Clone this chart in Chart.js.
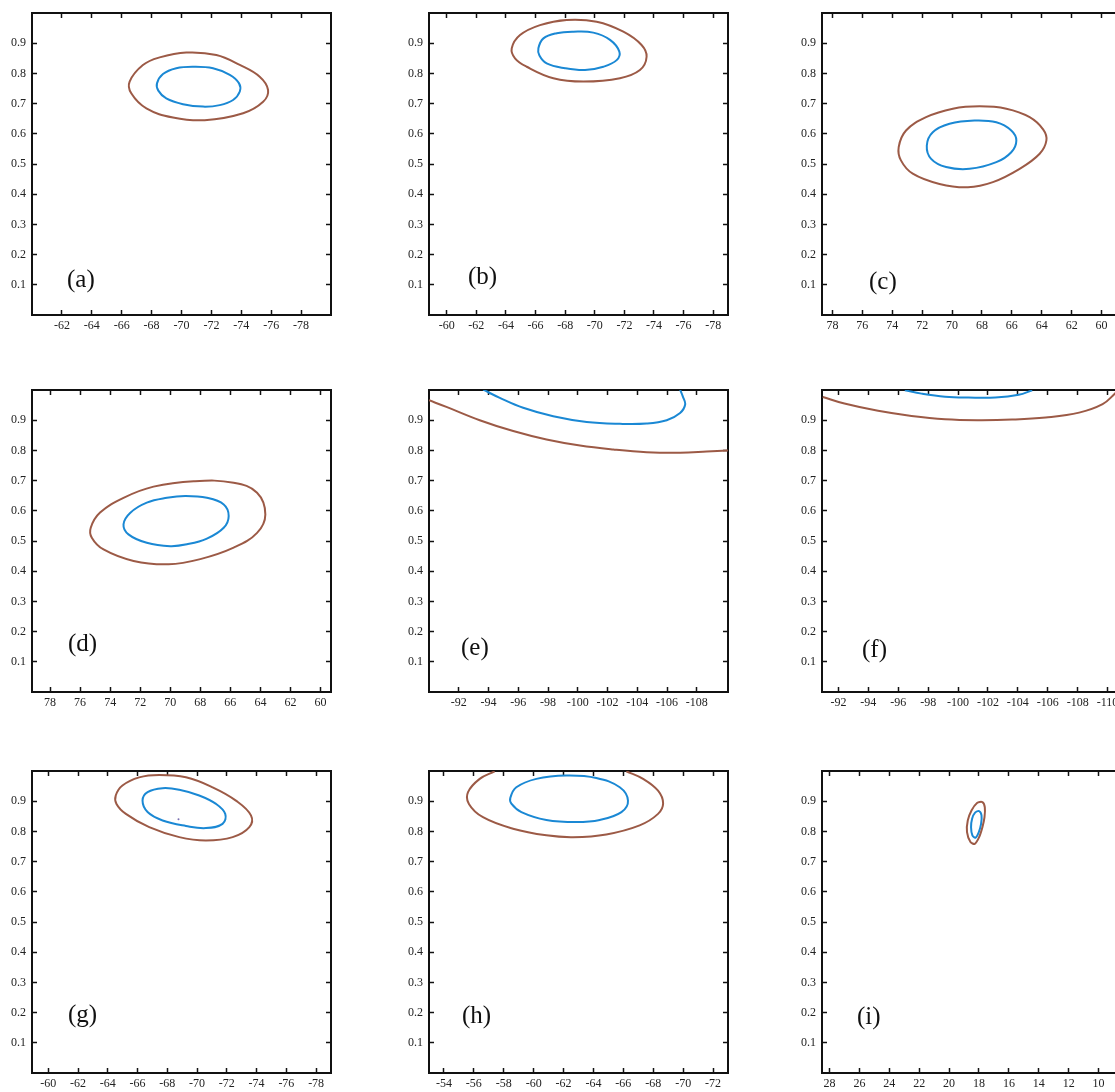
<!DOCTYPE html>
<html>
<head>
<meta charset="utf-8">
<script src="https://cdn.jsdelivr.net/npm/chart.js@4.4.1/dist/chart.umd.min.js"></script>
<style>
  html, body { margin: 0; padding: 0; background: #fff; overflow: hidden; width: 1115px; height: 1092px; }
  canvas { position: absolute; }
</style>
</head>
<body>
<script>
// tick labels
const yTicks = [0.1, 0.2, 0.3, 0.4, 0.5, 0.6, 0.7, 0.8, 0.9];
const ticksA = [-62, -64, -66, -68, -70, -72, -74, -76, -78];
const ticksB = [-60, -62, -64, -66, -68, -70, -72, -74, -76, -78];
const ticksC = [78, 76, 74, 72, 70, 68, 66, 64, 62, 60];
const ticksD = [78, 76, 74, 72, 70, 68, 66, 64, 62, 60];
const ticksE = [-92, -94, -96, -98, -100, -102, -104, -106, -108];
const ticksF = [-92, -94, -96, -98, -100, -102, -104, -106, -108, -110];
const ticksG = [-60, -62, -64, -66, -68, -70, -72, -74, -76, -78];
const ticksH = [-54, -56, -58, -60, -62, -64, -66, -68, -70, -72];
const ticksI = [28, 26, 24, 22, 20, 18, 16, 14, 12, 10];

// contours: [x, y]
const aBrown = [[-70.32,0.869],[-72.33,0.861],[-73.90,0.828],[-75.23,0.789],[-75.79,0.745],[-75.46,0.706],[-74.12,0.668],[-71.55,0.645],[-69.43,0.654],[-67.65,0.684],[-66.64,0.734],[-66.53,0.773],[-67.42,0.828],[-68.54,0.853]];
const aBlue = [[-70.77,0.822],[-72.11,0.817],[-73.23,0.795],[-73.85,0.767],[-73.90,0.740],[-73.45,0.712],[-72.56,0.695],[-71.44,0.690],[-70.10,0.698],[-68.98,0.717],[-68.45,0.743],[-68.36,0.767],[-68.76,0.798],[-69.65,0.817]];

const bBrown = [[-68.10,0.977],[-70.13,0.971],[-71.93,0.938],[-73.16,0.894],[-73.50,0.855],[-73.05,0.811],[-71.70,0.784],[-69.23,0.773],[-67.20,0.784],[-65.40,0.822],[-64.61,0.850],[-64.39,0.883],[-64.95,0.927],[-66.30,0.960]];
const bBlue = [[-68.55,0.938],[-69.90,0.935],[-71.03,0.911],[-71.66,0.872],[-71.48,0.844],[-70.58,0.822],[-69.34,0.811],[-67.99,0.817],[-66.75,0.833],[-66.26,0.859],[-66.19,0.883],[-66.53,0.916],[-67.43,0.933]];

const cBrown = [[68.16,0.691],[66.37,0.683],[64.81,0.655],[63.90,0.614],[63.69,0.578],[64.14,0.534],[65.48,0.484],[67.27,0.440],[68.94,0.423],[70.84,0.434],[72.63,0.468],[73.42,0.512],[73.57,0.556],[73.08,0.611],[71.74,0.655],[69.95,0.683]];
const cBlue = [[68.50,0.644],[67.04,0.638],[66.04,0.611],[65.70,0.578],[66.04,0.539],[67.04,0.506],[68.83,0.484],[70.40,0.490],[71.40,0.517],[71.69,0.561],[71.29,0.605],[70.17,0.633]];

const dBrown = [[68.44,0.698],[65.78,0.693],[64.22,0.660],[63.67,0.588],[64.22,0.527],[65.78,0.478],[68.00,0.440],[70.11,0.423],[72.44,0.434],[74.44,0.472],[75.22,0.511],[75.29,0.544],[74.67,0.594],[73.11,0.643],[71.11,0.680]];
const dBlue = [[69.00,0.649],[67.56,0.643],[66.44,0.621],[66.11,0.583],[66.44,0.544],[67.56,0.508],[68.89,0.489],[70.00,0.483],[71.56,0.494],[72.78,0.522],[73.11,0.555],[72.67,0.593],[71.56,0.627],[70.22,0.643]];

const eBrown = [[-90.00,0.966],[-91.17,0.944],[-93.41,0.900],[-95.66,0.864],[-97.90,0.836],[-100.15,0.816],[-102.39,0.803],[-104.63,0.794],[-106.88,0.792],[-108.67,0.796],[-110.09,0.800]];
const eBlue = [[-93.64,1.001],[-94.76,0.974],[-96.33,0.941],[-98.35,0.913],[-100.60,0.894],[-102.84,0.888],[-104.63,0.889],[-105.98,0.900],[-106.88,0.924],[-107.22,0.952],[-107.06,0.979],[-106.88,1.001]];

const fBrown = [[-90.95,0.977],[-92.40,0.955],[-94.65,0.931],[-96.89,0.914],[-99.13,0.903],[-101.37,0.900],[-103.61,0.902],[-105.86,0.909],[-108.10,0.925],[-109.67,0.953],[-110.45,0.986],[-110.68,0.999]];
const fBlue = [[-96.44,0.999],[-97.56,0.988],[-99.13,0.978],[-100.70,0.975],[-102.49,0.975],[-104.06,0.984],[-104.96,0.999]];

const gBrown = [[-67.45,0.987],[-69.25,0.979],[-71.04,0.946],[-72.61,0.902],[-73.62,0.853],[-73.51,0.814],[-72.39,0.781],[-70.59,0.770],[-68.80,0.781],[-66.78,0.814],[-65.21,0.858],[-64.58,0.891],[-64.53,0.919],[-64.98,0.952],[-66.10,0.979]];
const gBlue = [[-67.68,0.943],[-68.80,0.938],[-70.14,0.919],[-71.27,0.891],[-71.89,0.858],[-71.71,0.825],[-70.59,0.811],[-69.25,0.818],[-67.68,0.836],[-66.67,0.864],[-66.33,0.902],[-66.67,0.930]];
const gDot = [[-68.75,0.840]];

const hBrown = [[-57.39,0.999],[-56.39,0.974],[-55.61,0.930],[-55.67,0.891],[-56.61,0.847],[-58.62,0.809],[-60.85,0.787],[-62.63,0.781],[-64.86,0.790],[-67.09,0.820],[-68.32,0.858],[-68.66,0.893],[-68.32,0.935],[-67.32,0.974],[-66.20,0.999]];
const hBlue = [[-62.19,0.985],[-64.19,0.977],[-65.76,0.946],[-66.31,0.902],[-65.87,0.864],[-64.42,0.838],[-62.86,0.831],[-60.85,0.838],[-59.18,0.864],[-58.51,0.892],[-58.44,0.911],[-58.84,0.946],[-60.18,0.974]];

const iBrown = [[17.63,0.847],[17.77,0.814],[17.99,0.781],[18.28,0.759],[18.57,0.765],[18.80,0.798],[18.75,0.836],[18.50,0.869],[18.13,0.894],[17.77,0.897],[17.61,0.880]];
const iBlue = [[17.86,0.825],[18.01,0.798],[18.24,0.779],[18.44,0.787],[18.53,0.814],[18.46,0.842],[18.26,0.862],[17.99,0.867],[17.83,0.853]];

const BLUE = "#1a88d4";
const BROWN = "#9c5a46";
const FONT = '"Liberation Serif", "Times New Roman", serif';

// layout of the 3x3 grid (plot area boxes)
const colX = [32, 429, 822];
const rowY = [13, 390, 771];
const PW = 299, PH = 302;
const AXL = 40, PADT = 24, PADR = 20, AXB = 25, PADB = 5;

const panels = [
  { text: "(a)", col: 0, row: 0, xMin: -80, xMax: -60, xTicks: ticksA, brown: [aBrown], blue: [aBlue], dx: 35, dy: 35 },
  { text: "(b)", col: 1, row: 0, xMin: -79, xMax: -58.8, xTicks: ticksB, brown: [bBrown], blue: [bBlue], dx: 39, dy: 38 },
  { text: "(c)", col: 2, row: 0, xMin: 58.7, xMax: 78.7, xTicks: ticksC, brown: [cBrown], blue: [cBlue], dx: 47, dy: 33 },
  { text: "(d)", col: 0, row: 1, xMin: 59.3, xMax: 79.2, xTicks: ticksD, brown: [dBrown], blue: [dBlue], dx: 36, dy: 48 },
  { text: "(e)", col: 1, row: 1, xMin: -110.1, xMax: -90, xTicks: ticksE, brown: [eBrown], blue: [eBlue], openAll: true, dx: 32, dy: 44 },
  { text: "(f)", col: 2, row: 1, xMin: -110.9, xMax: -90.9, xTicks: ticksF, brown: [fBrown], blue: [fBlue], openAll: true, dx: 40, dy: 42 },
  { text: "(g)", col: 0, row: 2, xMin: -79, xMax: -58.9, xTicks: ticksG, brown: [gBrown], blue: [gBlue], dot: gDot, dx: 36, dy: 58 },
  { text: "(h)", col: 1, row: 2, xMin: -73, xMax: -53, xTicks: ticksH, brown: [hBrown], blue: [hBlue], openBrown: true, dx: 33, dy: 57 },
  { text: "(i)", col: 2, row: 2, xMin: 8.5, xMax: 28.5, xTicks: ticksI, brown: [iBrown], blue: [iBlue], tension: 0.3, dx: 35, dy: 56 }
];

function toXY(pts) { return pts.map(p => ({ x: p[0], y: p[1] })); }

const panelLabel = {
  id: "panelLabel",
  afterDraw(chart, args, opts) {
    const a = chart.chartArea, ctx = chart.ctx;
    ctx.save();
    ctx.font = "25px " + FONT;
    ctx.fillStyle = "#111";
    ctx.textAlign = "left";
    ctx.textBaseline = "middle";
    ctx.fillText(opts.text, a.left + opts.dx, a.bottom - opts.dy);
    ctx.restore();
  }
};

// let closed contours wrap around like a radar line, so the spline has no seam
const closeLoops = {
  id: "closeLoops",
  beforeDatasetsDraw(chart) {
    chart.data.datasets.forEach((ds, i) => {
      if (!ds.closed) return;
      const el = chart.getDatasetMeta(i).dataset;
      if (!el) return;
      el._loop = true;
      el._fullLoop = true;
      el.points = el.points;
      el.updateControlPoints(chart.chartArea, "x");
    });
  }
};

function axis(pos, values, extra) {
  const horiz = pos === "bottom" || pos === "top";
  const shown = pos === "bottom" || pos === "left";
  return Object.assign({
    type: "linear",
    position: pos,
    afterBuildTicks: s => { s.ticks = values.map(v => ({ value: v })); },
    afterFit: s => {
      if (horiz) s.height = shown ? AXB : 0;
      else s.width = shown ? AXL : 0;
    },
    grid: { display: true, drawOnChartArea: false, drawTicks: true, tickLength: -5, tickWidth: 1.5, tickColor: "#111" },
    border: { display: true, color: "#111", width: 2 },
    ticks: {
      display: shown,
      padding: horiz ? 9 : 11,
      color: "#222",
      font: { family: FONT, size: 12 },
      autoSkip: false,
      maxRotation: 0,
      callback: v => String(v)
    }
  }, extra);
}

function line(pts, color, closed, tension) {
  return {
    data: toXY(pts),
    closed: closed,
    showLine: true,
    borderColor: color,
    borderWidth: 2,
    pointRadius: 0,
    tension: tension,
    fill: false
  };
}

panels.forEach(p => {
  const canvas = document.createElement("canvas");
  canvas.width = AXL + PW + PADR;
  canvas.height = PADT + PH + AXB + PADB;
  canvas.style.left = (colX[p.col] - AXL) + "px";
  canvas.style.top = (rowY[p.row] - PADT) + "px";
  document.body.appendChild(canvas);

  const t = p.tension || 0.4;
  const datasets = [];
  p.brown.forEach(pts => datasets.push(line(pts, BROWN, !(p.openAll || p.openBrown), t)));
  p.blue.forEach(pts => datasets.push(line(pts, BLUE, !p.openAll, t)));
  if (p.dot) datasets.push({
    data: toXY(p.dot), showLine: false, pointRadius: 1, pointBackgroundColor: "#7a6fb0", borderWidth: 0
  });

  new Chart(canvas, {
    type: "scatter",
    data: { datasets },
    options: {
      responsive: false,
      animation: false,
      events: [],
      devicePixelRatio: 1,
      layout: { padding: { left: 0, top: PADT, right: PADR, bottom: PADB } },
      plugins: {
        legend: { display: false },
        tooltip: { enabled: false },
        panelLabel: { text: p.text, dx: p.dx, dy: p.dy }
      },
      scales: {
        x: axis("bottom", p.xTicks, { min: p.xMin, max: p.xMax, reverse: true }),
        x2: axis("top", p.xTicks, { axis: "x", min: p.xMin, max: p.xMax, reverse: true }),
        y: axis("left", yTicks, { min: 0, max: 1 }),
        y2: axis("right", yTicks, { axis: "y", min: 0, max: 1 })
      }
    },
    plugins: [closeLoops, panelLabel]
  });
});
</script>
</body>
</html>
